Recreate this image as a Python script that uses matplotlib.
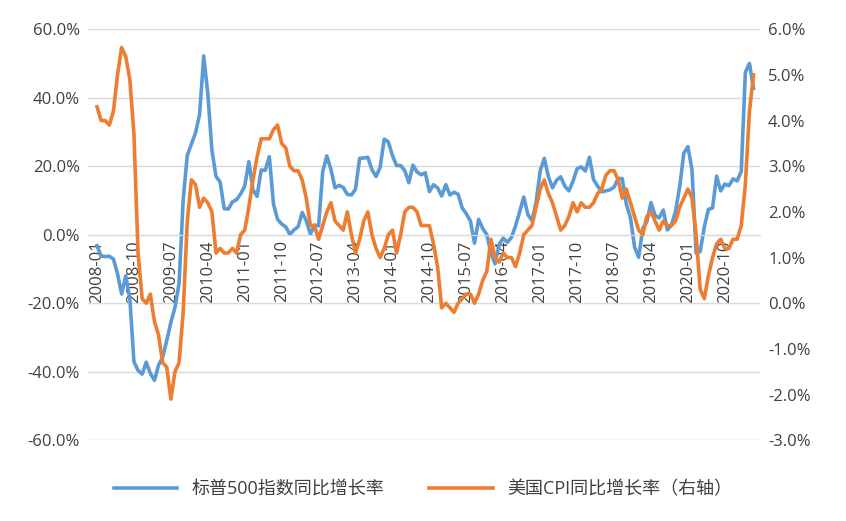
import matplotlib
matplotlib.use("Agg")
import matplotlib.pyplot as plt

plt.rcParams["font.family"] = ["Open Sans", "Noto Sans CJK SC"]

# S&P 500 YoY (%), monthly 2008-01 .. 2021-05
spx_yoy = [
    -3.2, -6.2, -6.4, -6.3, -7.1, -11.4, -17.3, -12.0, -18.7, -37.1, -39.6, -40.7,
    -37.2, -40.5, -42.5, -38.1, -35.7, -30.9, -25.6, -21.2, -14.2, 10.2, 23.2, 26.4,
    29.7, 35.1, 52.2, 41.2, 24.7, 17.0, 15.4, 7.6, 7.5, 9.6, 10.2, 11.9,
    14.2, 21.3, 13.2, 11.2, 18.9, 18.8, 22.8, 9.0, 4.5, 3.1, 2.3, 0.1,
    1.4, 2.3, 6.5, 4.1, 0.2, 2.8, 2.6, 18.4, 23.0, 19.1, 13.7, 14.4,
    13.8, 11.8, 11.6, 13.3, 22.3, 22.4, 22.6, 19.0, 17.0, 19.7, 27.9, 27.1,
    23.1, 20.2, 20.2, 18.7, 15.2, 20.3, 18.3, 17.5, 18.1, 12.6, 14.6, 13.7,
    11.3, 14.6, 11.6, 12.4, 11.8, 7.8, 6.1, 4.0, -2.5, 4.5, 1.8, 0.0,
    -5.4, -8.5, -2.8, -1.0, -2.2, -0.8, 2.6, 6.7, 11.0, 5.9, 4.1, 9.4,
    18.6, 22.3, 17.0, 13.7, 15.9, 16.9, 14.2, 12.8, 15.6, 19.3, 19.8, 18.6,
    22.6, 16.1, 14.2, 12.5, 12.8, 13.1, 13.9, 16.4, 16.4, 8.9, 5.0, -3.6,
    -6.6, 1.8, 3.8, 9.4, 5.6, 4.9, 7.2, 1.4, 2.8, 6.9, 14.0, 23.8,
    25.7, 19.0, -5.4, -4.9, 2.3, 7.4, 7.8, 17.1, 12.8, 14.8, 14.3, 16.3,
    15.7, 18.5, 47.4, 50.0, 42.7,
]

# US CPI YoY (%), monthly 2008-01 .. 2021-05 (right axis)
cpi_yoy = [
    4.3, 4.0, 4.0, 3.9, 4.2, 5.0, 5.6, 5.4, 4.9, 3.7, 1.1, 0.1,
    0.0, 0.2, -0.4, -0.7, -1.3, -1.4, -2.1, -1.5, -1.3, -0.2, 1.8, 2.7,
    2.6, 2.1, 2.3, 2.2, 2.0, 1.1, 1.2, 1.1, 1.1, 1.2, 1.1, 1.5,
    1.6, 2.1, 2.7, 3.2, 3.6, 3.6, 3.6, 3.8, 3.9, 3.5, 3.4, 3.0,
    2.9, 2.9, 2.7, 2.3, 1.7, 1.7, 1.4, 1.7, 2.0, 2.2, 1.8, 1.7,
    1.6, 2.0, 1.5, 1.1, 1.4, 1.8, 2.0, 1.5, 1.2, 1.0, 1.2, 1.5,
    1.6, 1.1, 1.5, 2.0, 2.1, 2.1, 2.0, 1.7, 1.7, 1.7, 1.3, 0.8,
    -0.1, 0.0, -0.1, -0.2, 0.0, 0.1, 0.2, 0.2, 0.0, 0.2, 0.5, 0.7,
    1.4, 1.0, 0.9, 1.1, 1.0, 1.0, 0.8, 1.1, 1.5, 1.6, 1.7, 2.1,
    2.5, 2.7, 2.4, 2.2, 1.9, 1.6, 1.7, 1.9, 2.2, 2.0, 2.2, 2.1,
    2.1, 2.2, 2.4, 2.5, 2.8, 2.9, 2.9, 2.7, 2.3, 2.5, 2.2, 1.9,
    1.6, 1.5, 1.9, 2.0, 1.8, 1.6, 1.8, 1.7, 1.7, 1.8, 2.1, 2.3,
    2.5, 2.3, 1.5, 0.3, 0.1, 0.6, 1.0, 1.3, 1.4, 1.2, 1.2, 1.4,
    1.4, 1.7, 2.6, 4.2, 5.0,
]

months = [f"{2008 + i // 12}-{i % 12 + 1:02d}" for i in range(len(spx_yoy))]
tick_idx = list(range(0, len(months), 9))

blue = "#5B9BD5"
orange = "#ED7D31"

fig = plt.figure(figsize=(8.46, 5.21), dpi=100)
ax = fig.add_axes([0.104, 0.155, 0.794, 0.789])
ax.spines["bottom"].set_position(("data", 0))  # before ticks: this resets them
ax2 = ax.twinx()

x = range(len(months))
l1, = ax.plot(x, spx_yoy, color=blue, lw=2.6, label="标普500指数同比增长率")
l2, = ax2.plot(x, cpi_yoy, color=orange, lw=2.6, label="美国CPI同比增长率（右轴）")

ax.set_ylim(-60, 60)
ax.set_yticks(range(-60, 61, 20))
ax.set_yticklabels([f"{v:.1f}%" for v in range(-60, 61, 20)])
ax2.set_ylim(-3, 6)
ax2.set_yticks(range(-3, 7))
ax2.set_yticklabels([f"{v:.1f}%" for v in range(-3, 7)])

ax.set_xlim(-2.2, len(months) + 0.5)
ax.set_xticks(tick_idx)
ax.set_xticklabels([months[i] for i in tick_idx])
ax.spines["bottom"].set_color("#D9D9D9")
for s in ["top", "left", "right"]:
    ax.spines[s].set_visible(False)
    ax2.spines[s].set_visible(False)
ax2.spines["bottom"].set_visible(False)

ax.grid(axis="y", color="#D9D9D9", lw=1)
ax.set_axisbelow(True)
ax.tick_params(axis="both", length=0, labelsize=12, colors="#404040")
ax.tick_params(axis="x", labelrotation=90, pad=4)
ax.tick_params(axis="y", pad=6)
ax2.tick_params(axis="y", length=0, labelsize=12, colors="#404040", pad=6)

fig.legend(handles=[l1, l2], loc="center", bbox_to_anchor=(0.5, 0.06), ncol=2,
           frameon=False, fontsize=13, handlelength=3.5, columnspacing=2.5,
           labelcolor="#404040")

fig.savefig("out.png", dpi=100)
